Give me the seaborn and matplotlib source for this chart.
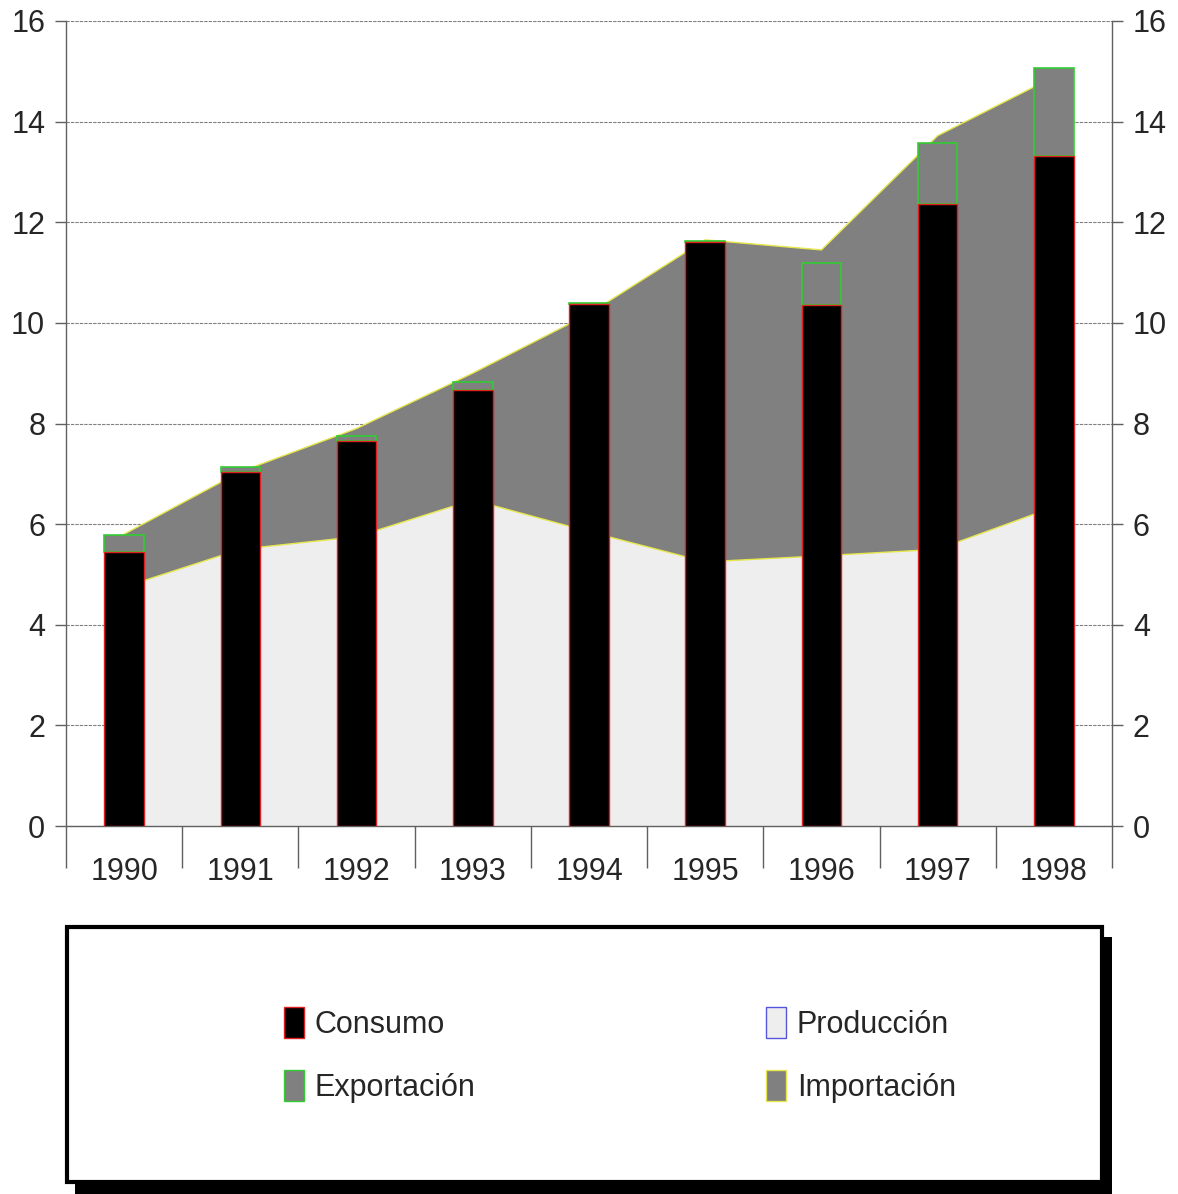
# Consumo / Exportación bars over Producción / Importación areas
import numpy as np
import matplotlib.pyplot as plt
import seaborn as sns
from matplotlib.patches import Patch, Rectangle

# data
years = ["1990", "1991", "1992", "1993", "1994", "1995", "1996", "1997", "1998"]
consumo = [5.45, 7.04, 7.65, 8.67, 10.38, 11.61, 10.36, 12.37, 13.32]
exportacion = [0.34, 0.10, 0.10, 0.16, 0.02, 0.02, 0.83, 1.21, 1.75]
produccion = [4.75, 5.50, 5.75, 6.48, 5.85, 5.25, 5.37, 5.50, 6.34]
importacion = [1.05, 1.54, 2.15, 2.52, 4.33, 6.40, 6.08, 8.22, 8.55]
yticks = [0, 2, 4, 6, 8, 10, 12, 14, 16]

sns.set_style("white")
plt.rcParams['font.family'] = ['Liberation Sans', 'DejaVu Sans']

fig = plt.figure(figsize=(11.78, 11.94), dpi=100)
ax = fig.add_axes([66/1178, 1-826/1194, (1112-66)/1178, (826-21)/1194])

x = np.arange(len(years))
prod = np.array(produccion)
total_area = prod + np.array(importacion)

# areas
ax.fill_between(x, 0, prod, facecolor='#eeeeee', edgecolor='none', zorder=1)
ax.fill_between(x, prod, total_area, facecolor='#808080', edgecolor='none', zorder=1)
ax.plot(x, prod, color='#e6e64d', lw=1, zorder=1.5)
ax.plot(x, total_area, color='#e6e64d', lw=1, zorder=1.5)

# stacked bars
sns.barplot(x=years, y=consumo, color='black', edgecolor='#e02020',
            linewidth=1, width=0.34, saturation=1, ax=ax, zorder=4)
sns.barplot(x=years, y=exportacion, bottom=consumo, color='#808080',
            edgecolor='#33cc33', linewidth=1.2, width=0.34, saturation=1,
            ax=ax, zorder=3)

ax.set_xlim(-0.5, len(years) - 0.5)
ax.set_ylim(0, 16)
ax.set_yticks(yticks)
ax.set_xticks(x)
ax.set_xticklabels(years)
ax.set_xticks(np.arange(len(years) + 1) - 0.5, minor=True)
ax.set_xlabel("")
ax.set_ylabel("")

ax.set_axisbelow(True)
ax.yaxis.grid(True, linestyle=(0, (3, 1)), color='#808080', lw=0.8)
ax.xaxis.grid(False)

for s in ['left', 'right', 'bottom']:
    ax.spines[s].set_visible(True)
    ax.spines[s].set_color('#606060')
    ax.spines[s].set_linewidth(1)
ax.spines['top'].set_visible(False)

ax.tick_params(axis='y', which='major', left=True, right=True, labelleft=True,
               labelright=True, direction='out', length=8, width=1,
               color='#606060', labelsize=22, pad=7)
ax.tick_params(axis='x', which='major', bottom=True, length=0, labelsize=22, pad=22)
ax.tick_params(axis='x', which='minor', bottom=True, direction='out', length=30,
               width=1, color='#606060')

# legend box with shadow
fig.add_artist(Rectangle((75/1178, 0), (1112-75)/1178, (1194-937)/1194,
                         transform=fig.transFigure, facecolor='black',
                         edgecolor='none', zorder=1))
fig.add_artist(Rectangle((67/1178, 1-1182/1194), (1102-67)/1178, (1182-927)/1194,
                         transform=fig.transFigure, facecolor='white',
                         edgecolor='black', lw=3, zorder=2))

handles = [
    Patch(facecolor='black', edgecolor='#e02020', label='Consumo'),
    Patch(facecolor='#808080', edgecolor='#33cc33', label='Exportación'),
    Patch(facecolor='#eeeeee', edgecolor='#5555dd', label='Producción'),
    Patch(facecolor='#808080', edgecolor='#e6e64d', label='Importación'),
]
leg = fig.legend(handles=handles, ncol=2, loc='center',
                 bbox_to_anchor=(620/1178, 1-1055/1194), frameon=False,
                 fontsize=22, handlelength=0.65, handleheight=1.18,
                 handletextpad=0.36, columnspacing=9.5, labelspacing=1.01)
leg.set_zorder(5)

fig.savefig("out.png", dpi=100, facecolor='white')
